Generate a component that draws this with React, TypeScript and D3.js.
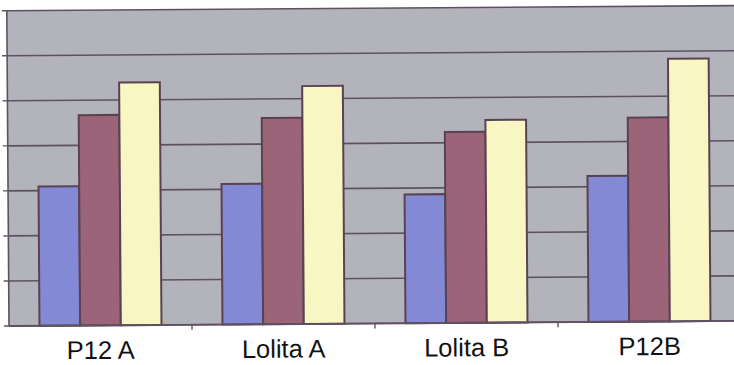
import React from "react";
import * as d3 from "d3";

// Categories and the three series, in gridline units
const categories = ["P12 A", "Lolita A", "Lolita B", "P12B"];
const seriesNames = ["s1", "s2", "s3"];
const series1 = [3.09, 3.12, 2.86, 3.24];
const series2 = [4.67, 4.58, 4.24, 4.53];
const series3 = [5.39, 5.28, 4.5, 5.83];
const yTicks = [0, 1, 2, 3, 4, 5, 6, 7];

const seriesValues = [series1, series2, series3];
const colors = ["#8489d6", "#9c6478", "#f8f6c2"];

const W = 734;
const H = 365;
const plot = { left: 8, right: 740, top: 8.2, bottom: 323.5 };

export default function App() {
  const x0 = d3
    .scaleBand<string>()
    .domain(categories)
    .range([plot.left, plot.right])
    .paddingInner(0)
    .paddingOuter(0);
  const inner = x0.bandwidth() * (2 / 3);
  const x1 = d3
    .scaleBand<string>()
    .domain(seriesNames)
    .range([0, inner])
    .padding(0);
  const y = d3.scaleLinear().domain([0, 7]).range([plot.bottom, plot.top]);

  const gridColor = "#5e5262";
  const edge = "#5a4252";

  return (
    <svg
      width={W}
      height={H}
      style={{ position: "absolute", left: 0, top: 0, background: "#ffffff" }}
    >
      <g transform={`rotate(-0.4 ${W / 2} ${H / 2})`}>
        <rect
          x={plot.left}
          y={plot.top}
          width={plot.right - plot.left}
          height={plot.bottom - plot.top}
          fill="#b3b3bb"
        />
        {yTicks.map((t) => (
          <g key={t}>
            <line
              x1={plot.left}
              x2={plot.right}
              y1={y(t)}
              y2={y(t)}
              stroke={gridColor}
              strokeWidth={1.6}
            />
            <line
              x1={plot.left - 5}
              x2={plot.left}
              y1={y(t)}
              y2={y(t)}
              stroke={gridColor}
              strokeWidth={1.4}
            />
          </g>
        ))}
        <line
          x1={plot.left}
          x2={plot.left}
          y1={plot.top}
          y2={plot.bottom}
          stroke={gridColor}
          strokeWidth={1.6}
        />
        {categories.map((c, i) => {
          const gx = (x0(c) as number) + (x0.bandwidth() - inner) / 2;
          return (
            <g key={c}>
              {seriesNames.map((s, j) => {
                const v = seriesValues[j][i];
                return (
                  <rect
                    key={s}
                    x={gx + (x1(s) as number)}
                    y={y(v)}
                    width={x1.bandwidth()}
                    height={y(0) - y(v)}
                    fill={colors[j]}
                    stroke={edge}
                    strokeWidth={2}
                  />
                );
              })}
              {i > 0 && (
                <line
                  x1={x0(c) as number}
                  x2={x0(c) as number}
                  y1={plot.bottom}
                  y2={plot.bottom + 5}
                  stroke={gridColor}
                  strokeWidth={1.4}
                />
              )}
              <text
                x={(x0(c) as number) + x0.bandwidth() / 2}
                y={357}
                textAnchor="middle"
                fontFamily="'Liberation Sans', Arial, sans-serif"
                fontSize={25.5}
                fill="#111"
              >
                {c}
              </text>
            </g>
          );
        })}
        <line
          x1={plot.left}
          x2={plot.right}
          y1={plot.bottom}
          y2={plot.bottom}
          stroke={gridColor}
          strokeWidth={1.8}
        />
      </g>
    </svg>
  );
}
